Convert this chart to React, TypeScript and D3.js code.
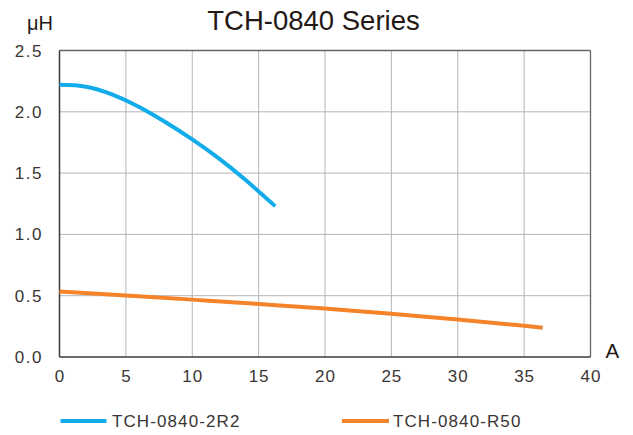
import React from "react";
import * as d3 from "d3";

const title = "TCH-0840 Series";
const xTicks = [0, 5, 10, 15, 20, 25, 30, 35, 40];
const yTicks = [0, 0.5, 1.0, 1.5, 2.0, 2.5];

const series2R2X = [0, 2, 4, 6, 8, 10, 12, 14, 16.25];
const series2R2Y = [2.22, 2.205, 2.14, 2.04, 1.915, 1.775, 1.62, 1.445, 1.23];

const seriesR50X = [0, 5, 10, 15, 20, 25, 30, 35, 36.4];
const seriesR50Y = [0.535, 0.502, 0.468, 0.432, 0.395, 0.352, 0.306, 0.254, 0.238];

const seriesNames = ["TCH-0840-2R2", "TCH-0840-R50"];
const seriesColors = ["#12acea", "#f5832a"];

const W = 633;
const H = 435;
const left = 59.5;
const right = 590.5;
const top = 50.5;
const bottom = 357;

const font = "'Liberation Sans', Arial, sans-serif";
const textColor = "#3a3534";

export default function App() {
  const x = d3.scaleLinear().domain([0, 40]).range([left, right]);
  const y = d3.scaleLinear().domain([0, 2.5]).range([bottom, top]);
  const line = d3
    .line<[number, number]>()
    .x((d) => x(d[0]))
    .y((d) => y(d[1]))
    .curve(d3.curveNatural);

  const data = [
    series2R2X.map((v, i) => [v, series2R2Y[i]] as [number, number]),
    seriesR50X.map((v, i) => [v, seriesR50Y[i]] as [number, number]),
  ];

  const legendPos = [
    { x0: 60.5, x1: 106.5, tx: 112 },
    { x0: 342, x1: 389, tx: 393 },
  ];

  return (
    <svg
      width={W}
      height={H}
      style={{ position: "absolute", left: 0, top: 0, background: "#fff" }}
      fontFamily={font}
    >
      <text x={313.5} y={29.5} textAnchor="middle" fontSize={27.5} fill="#231815">
        {title}
      </text>
      <text x={27} y={30} fontSize={20} fill="#231815">
        {"\u03bcH"}
      </text>
      <text x={605.5} y={357.5} fontSize={20.5} fill="#231815">
        A
      </text>

      {/* grid */}
      {xTicks.slice(1, -1).map((t) => (
        <line key={"gx" + t} x1={x(t)} x2={x(t)} y1={top} y2={bottom} stroke="#b5b5b6" strokeWidth={1} />
      ))}
      {yTicks.slice(1, -1).map((t) => (
        <line key={"gy" + t} x1={left} x2={right} y1={y(t)} y2={y(t)} stroke="#b5b5b6" strokeWidth={1} />
      ))}

      {/* frame */}
      <line x1={left} x2={right} y1={top} y2={top} stroke="#6a6462" strokeWidth={1.3} />
      <line x1={right} x2={right} y1={top} y2={bottom} stroke="#6a6462" strokeWidth={1.3} />
      <line x1={left} x2={left} y1={top} y2={bottom} stroke="#3e3a39" strokeWidth={1.5} />
      <line x1={left} x2={right} y1={bottom} y2={bottom} stroke="#3e3a39" strokeWidth={1.5} />

      {/* tick labels */}
      {yTicks.map((t) => (
        <text
          key={"yl" + t}
          x={43}
          y={y(t) + 6}
          textAnchor="end"
          fontSize={17}
          letterSpacing={1.5}
          fill={textColor}
        >
          {t.toFixed(1)}
        </text>
      ))}
      {xTicks.map((t) => (
        <text
          key={"xl" + t}
          x={x(t) + 0.5}
          y={382}
          textAnchor="middle"
          fontSize={17}
          letterSpacing={1}
          fill={textColor}
        >
          {t}
        </text>
      ))}

      {/* series */}
      {data.map((d, i) => (
        <path
          key={"s" + i}
          d={line(d) || ""}
          fill="none"
          stroke={seriesColors[i]}
          strokeWidth={4}
        />
      ))}

      {/* legend */}
      {seriesNames.map((n, i) => (
        <g key={"lg" + i}>
          <line
            x1={legendPos[i].x0}
            x2={legendPos[i].x1}
            y1={421}
            y2={421}
            stroke={seriesColors[i]}
            strokeWidth={4}
          />
          <text x={legendPos[i].tx} y={427} fontSize={17} letterSpacing={1.1} fill={textColor}>
            {n}
          </text>
        </g>
      ))}
    </svg>
  );
}
